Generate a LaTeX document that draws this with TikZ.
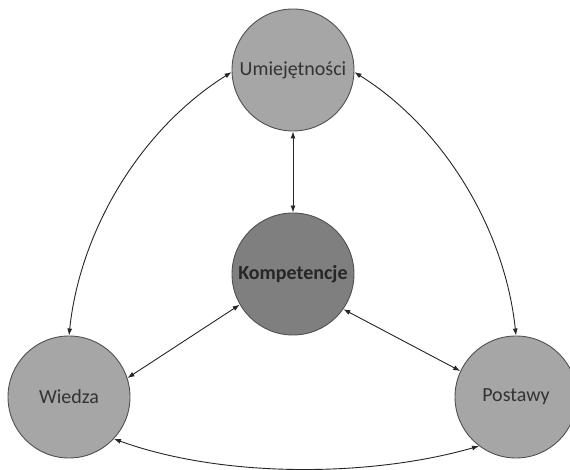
\documentclass[tikz,border=0pt]{standalone}
\usepackage{fontspec}
\setmainfont{Carlito}
\usetikzlibrary{arrows.meta}
\definecolor{outerfill}{HTML}{A6A6A6}
\definecolor{innerfill}{HTML}{7F7F7F}
\definecolor{rimcol}{HTML}{505050}
\definecolor{txtcol}{HTML}{333333}
\begin{document}
\begin{tikzpicture}[x=1pt,y=1pt,
  ball/.style={circle, draw=rimcol, line width=0.9pt, fill=outerfill, minimum size=122pt, inner sep=0pt,
    font=\fontsize{20}{24}\selectfont, text=txtcol},
  core/.style={ball, fill=innerfill, font=\fontsize{20}{24}\selectfont\bfseries, text=black!85},
  link/.style={line width=0.9pt, black!85, {Latex[length=7pt,width=5pt]}-{Latex[length=7pt,width=5pt]}}]
\useasboundingbox (0,0) rectangle (570,470);
\fill[white] (0,0) rectangle (570,470);
\node[ball] (U) at (293,400) {Umiejętności};
\node[core] (K) at (293,196) {Kompetencje};
\node[ball] (W) at (69,73) {Wiedza};
\node[ball] (P) at (516,73) {Postawy};
\draw[link] (U.south) -- (K.north);
\draw[link] (K.210) -- (W.18);
\draw[link] (K.-35) -- (P.155);
\draw[link] (U.182) to[out=212, in=84, looseness=0.88] (W.north);
\draw[link] (U.-2) to[out=-32, in=96, looseness=0.88] (P.north);
\draw[link] (W.-43) to[out=-20, in=196, looseness=0.8] (P.233);
\end{tikzpicture}
\end{document}
